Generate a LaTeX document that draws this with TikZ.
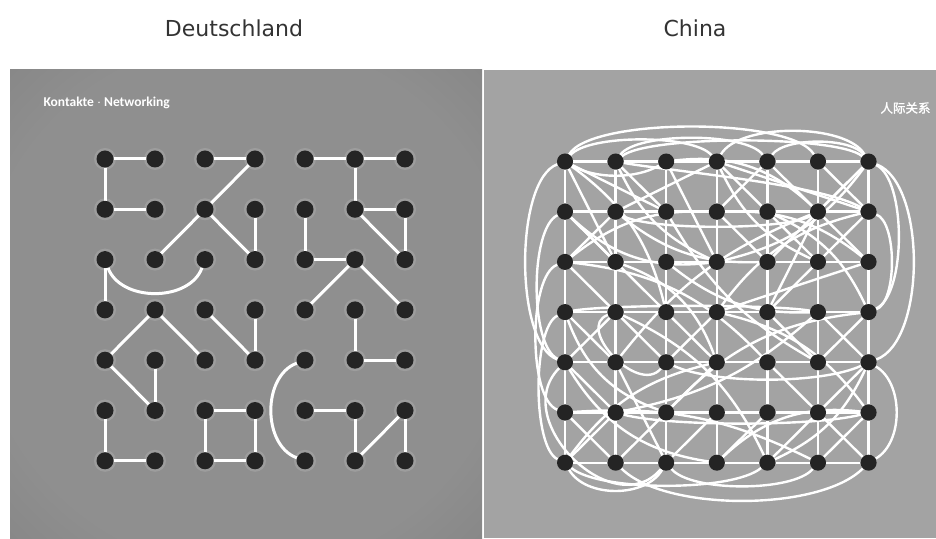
\documentclass[tikz,border=0pt]{standalone}
\usepackage{fontspec}
\usepackage{tikz}
\usetikzlibrary{backgrounds}
\newfontfamily\titlefont{DejaVu Sans}
\newfontfamily\labelfont{Carlito}
\newfontfamily\cjkfont[FakeBold=1.5]{Noto Sans CJK SC}
\definecolor{leftgray}{HTML}{8F8F8F}
\definecolor{leftedge}{HTML}{7A7A7A}
\definecolor{rightgray}{HTML}{A3A3A3}
\definecolor{dotblack}{HTML}{242424}
\pgfdeclareradialshading{leftvignette}{\pgfpoint{0bp}{0bp}}{color(0bp)=(leftgray); color(28bp)=(leftgray); color(50bp)=(leftedge); color(72bp)=(leftedge)}

\begin{document}
\begin{tikzpicture}[x=1pt, y=1pt,
    ldot/.style={circle, fill=dotblack, minimum size=17pt, inner sep=0pt},
    cdot/.style={circle, fill=dotblack, minimum size=16pt, inner sep=0pt},
    lline/.style={draw=white, line width=3pt},
    cline/.style={draw=white, line width=2.4pt},
    title/.style={font=\titlefont\fontsize{22}{26}\selectfont, text=black!80}]
  \useasboundingbox (0,0) rectangle (936,538);

  % titles
  \node[title] (de) at (234,510) {Deutschland};
  \node[title] (cn) at (695,510) {China};

  % dots
  \foreach \c in {1,...,7}
    \foreach \r in {1,...,7} {
      \node[ldot] (l\c\r) at ({105+50*(\c-1)},{379-50.3*(\r-1)}) {};
      \node[cdot] (c\c\r) at ({565+50.6*(\c-1)},{376.5-50.2*(\r-1)}) {};
    }

  \node[anchor=west, text=white, font=\labelfont\bfseries\fontsize{13.5}{15}\selectfont] (kontakte) at (40,435) {Kontakte $\cdot$ Networking};
  \node[anchor=east, text=white, font=\cjkfont\fontsize{12.5}{14}\selectfont] (renji) at (934,430) {人际关系};

  \begin{pgfonlayer}{background}
    \fill[white] (0,0) rectangle (936,538);
    \shade[shading=leftvignette] (10,0) rectangle (482,468);
    \fill[rightgray] (484,0) rectangle (936,468);
    \foreach \c in {1,...,7}
      \foreach \r in {1,...,7}
        \fill[white, opacity=0.13] (l\c\r) circle (11pt);

    % Deutschland: few separate contacts
    \foreach \a/\b in {l11/l21, l31/l41, l11/l12, l12/l22, l41/l32, l32/l23, l32/l43, l13/l14,
        l51/l61, l61/l71, l61/l62, l62/l72, l62/l73, l72/l73, l42/l43, l52/l53, l53/l63,
        l63/l54, l63/l74, l24/l15, l24/l35, l34/l45, l15/l26, l25/l26, l16/l17, l17/l27,
        l36/l46, l36/l37, l37/l47, l46/l47, l44/l45, l64/l65, l65/l75, l56/l66, l66/l67,
        l67/l76, l76/l77}
      \draw[lline] (\a) -- (\b);
    \draw[lline] (l13) to[bend right=70] (l33);
    \draw[lline] (l55) to[bend right=70] (l57);

    % China: everyone with everyone
    \foreach \c/\d in {1/2, 2/3, 3/4, 4/5, 5/6, 6/7}
      \foreach \r in {1,...,7} {
        \draw[cline] (c\c\r) -- (c\d\r);
        \draw[cline] (c\r\c) -- (c\r\d);
      }
    \foreach \a/\b in {c11/c23, c11/c32, c12/c23, c13/c22, c21/c32, c22/c41, c31/c43,
        c41/c52, c51/c42, c51/c62, c61/c72, c71/c62, c41/c72, c42/c53, c52/c63, c72/c63,
        c73/c44, c62/c54, c63/c54, c13/c24, c14/c25, c15/c24, c24/c35, c34/c45, c35/c44,
        c54/c65, c64/c75, c74/c65, c15/c26, c16/c27, c17/c26, c25/c37, c27/c36, c36/c45,
        c46/c37, c56/c47, c55/c66, c66/c57, c66/c77, c76/c67, c75/c66, c12/c34, c71/c53,
        c62/c73}
      \draw[cline] (\a) -- (\b);
    \foreach \a/\b/\t in {c11/c34/20, c12/c43/-25, c13/c42/20, c21/c43/-20, c31/c62/25,
        c22/c53/-20, c42/c73/20, c41/c63/-20, c52/c74/20, c71/c43/20, c72/c44/-20,
        c13/c55/20, c14/c36/-25, c23/c45/25, c33/c64/-20, c44/c76/20, c24/c57/20,
        c15/c47/-25, c16/c67/15, c17/c45/20, c26/c64/-15, c36/c74/20, c57/c75/-20,
        c47/c76/25, c25/c62/15, c32/c65/-15}
      \draw[cline] (\a) to[bend left=\t] (\b);
    \foreach \a/\b/\o/\i/\l in {c11/c61/60/120/0.45, c11/c41/50/130/0.5, c21/c51/55/125/0.5,
        c41/c71/60/120/0.65, c51/c71/55/125/0.6, c21/c71/40/140/0.35,
        c11/c15/200/160/0.6, c12/c15/205/155/0.55, c13/c16/200/160/0.55, c14/c17/205/155/0.5,
        c15/c37/225/230/1.3,
        c17/c37/-60/-120/0.9, c27/c77/-45/-135/0.65, c37/c67/-50/-130/0.55, c17/c57/-40/-140/0.5,
        c71/c75/-20/20/0.7, c71/c74/-25/25/0.6, c75/c77/-30/30/0.9, c72/c74/-20/20/0.6,
        c11/c31/-30/-150/0.8, c35/c75/-25/-155/0.6, c26/c76/-15/-165/0.5, c21/c72/-10/150/0.5,
        c22/c62/-30/-150/0.4, c14/c64/10/170/0.4, c24/c35/200/230/1.2}
      \draw[cline] (\a) to[out=\o, in=\i, looseness=\l] (\b);
  \end{pgfonlayer}
\end{tikzpicture}
\end{document}
